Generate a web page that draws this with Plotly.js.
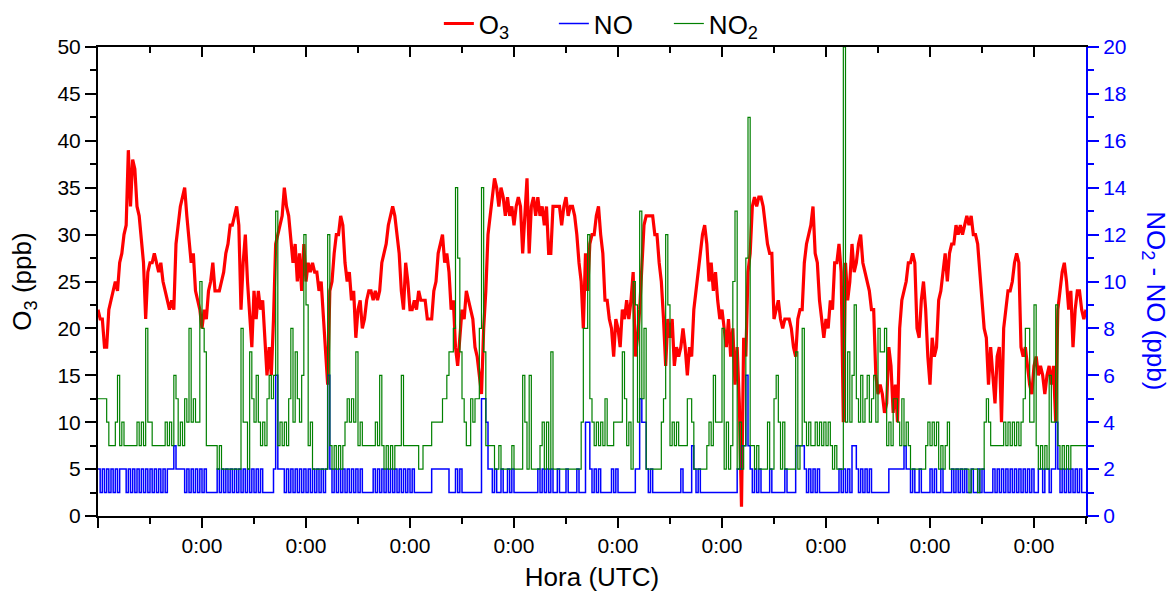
<!DOCTYPE html>
<html>
<head>
<meta charset="utf-8">
<script src="https://cdn.plot.ly/plotly-3.0.1.min.js"></script>
<style>html,body{margin:0;padding:0;background:#fff;}#chart{width:1176px;height:598px;}</style>
</head>
<body>
<div id="chart"></div>
<script>
// Half-hourly samples, hours since start (0 .. 228 h = 9.5 days)
const hours = Array.from({length: 457}, (_, i) => i * 0.5);

// O3 (ppb), left axis
const o3 = [
 22,21, 21,18, 18,22, 23,24, 25,24,
 27,28, 30,31, 39,33, 38,37, 33,32,
 29,27, 21,26, 27,27, 28,27, 26,27,
 25,24, 23,22, 23,22, 29,31, 33,34,
 35,32, 29,27, 28,24, 23,22, 20,22,
 21,24, 25,27, 24,24, 24,25, 26,28,
 29,31, 31,32, 33,31, 22,27, 30,25,
 22,18, 24,21, 24,22, 23,19, 15,18,
 15,21, 29,30, 31,32, 35,33, 32,29,
 27,29, 25,28, 24,29, 25,27, 26,27,
 26,26, 24,25, 21,17, 14,24, 25,28,
 30,30, 32,31, 27,25, 26,23, 24,19,
 22,23, 20,21, 23,24, 24,23, 24,23,
 24,27, 28,29, 31,32, 33,32, 30,28,
 24,22, 27,25, 22,22, 23,22, 24,23,
 23,23, 21,21, 21,24, 25,28, 29,30,
 27,28, 26,22, 23,18, 16,19, 22,21,
 24,23, 22,21, 18,17, 15,13, 20,24,
 30,32, 34,36, 35,33, 35,34, 32,34,
 32,33, 31,33, 34,33, 28,32, 36,28,
 33,34, 32,34, 32,33, 31,33, 28,28,
 33,33, 33,33, 31,33, 34,32, 33,33,
 32,30, 27,25, 20,28, 24,29, 30,30,
 32,33, 30,28, 23,23, 21,20, 17,21,
 20,18, 22,21, 23,21, 23,26, 17,19,
 22,27, 31,32, 32,32, 32,30, 30,27,
 25,21, 16,21, 19,21, 16,18, 17,18,
 20,18, 15,18, 17,22, 24,26, 28,30,
 31,29, 25,27, 24,26, 23,21, 22,20,
 18,21, 17,20, 14,18, 12,1, 19,17,
 26,28, 33,34, 33,34, 34,33, 31,29,
 28,28, 21,22, 23,21, 20,21, 21,21,
 20,18, 17,21, 22,22, 27,29, 30,31,
 33,28, 27,23, 21,19, 21,20, 23,22,
 27,27, 29,26, 10,27, 23,25, 29,26,
 27,29, 30,27, 26,25, 24,22, 22,15,
 13,14, 13,11, 12,18, 16,11, 14,10,
 20,23, 24,25, 27,27, 28,27, 20,19,
 23,25, 22,17, 14,19, 17,18, 23,24,
 26,28, 25,28, 29,29, 31,30, 31,30,
 31,32, 31,32, 30,30, 29,26, 23,20,
 19,14, 18,15, 12,17, 18,10, 20,22,
 24,24, 25,27, 28,27, 18,17, 18,16,
 14,13, 16,17, 15,16, 15,13, 15,16,
 14,16, 10,22, 24,26, 27,25, 22,24,
 18,22, 24,24, 22,21,
 22
];

// NO (ppb), right axis
const no = [
 2,1, 2,1, 2,1, 2,1, 2,1,
 2,2, 2,1, 2,1, 2,1, 2,1,
 2,1, 2,1, 2,1, 2,1, 2,1,
 2,1, 2,2, 2,3, 2,2, 2,2,
 1,2, 1,2, 1,2, 1,2, 1,2,
 1,1, 1,1, 1,2, 1,2, 1,2,
 1,2, 1,2, 1,2, 1,2, 1,2,
 1,2, 1,2, 1,2, 1,1, 1,1,
 1,2, 6,2, 2,2, 1,2, 1,2,
 1,2, 1,2, 1,2, 1,2, 1,2,
 1,2, 1,2, 1,2, 6,2, 1,2,
 1,2, 1,2, 1,2, 1,2, 1,2,
 1,2, 1,1, 1,1, 1,2, 1,2,
 1,2, 1,2, 1,2, 1,2, 1,2,
 1,2, 1,2, 1,2, 1,1, 1,1,
 1,1, 1,1, 2,2, 2,2, 2,2,
 2,2, 1,1, 1,2, 1,2, 1,1,
 1,1, 1,1, 1,1, 1,5, 5,4,
 2,2, 1,2, 1,1, 2,1, 1,2,
 1,2, 1,1, 1,1, 1,1, 1,1,
 1,1, 1,2, 1,2, 1,2, 1,2,
 1,1, 2,1, 1,1, 2,1, 1,1,
 1,2, 1,1, 1,4, 4,2, 1,2,
 1,2, 1,1, 1,1, 1,2, 1,2,
 1,1, 1,1, 1,1, 1,1, 2,2,
 5,4, 4,2, 1,2, 1,1, 1,1,
 1,1, 1,1, 1,1, 1,1, 1,2,
 1,1, 1,1, 3,2, 1,2, 1,1,
 1,1, 1,1, 1,1, 1,1, 1,1,
 1,1, 1,1, 1,2, 2,3, 3,6,
 3,2, 1,2, 1,2, 1,1, 1,1,
 2,1, 1,1, 1,1, 1,2, 1,1,
 1,1, 3,3, 3,3, 2,1, 2,1,
 2,1, 2,1, 1,1, 1,1, 1,1,
 1,1, 2,1, 2,1, 2,1, 3,3,
 2,1, 2,1, 2,1, 2,1, 1,1,
 1,1, 1,1, 1,2, 2,2, 2,2,
 2,2, 3,2, 2,1, 2,1, 1,2,
 1,1, 1,1, 2,1, 2,1, 1,2,
 1,1, 1,1, 2,1, 2,1, 2,1,
 2,1, 1,2, 1,1, 2,1, 2,1,
 1,1, 1,2, 1,2, 1,2, 1,2,
 1,2, 1,2, 1,2, 1,2, 1,2,
 1,2, 1,1, 2,2, 1,2, 2,1,
 2,2, 4,2, 1,2, 1,2, 1,2,
 1,2, 1,2, 1,1,
 1
];

// NO2 (ppb), right axis
const no2 = [
 5,5, 5,5, 4,3, 3,3, 4,6,
 3,4, 3,3, 3,3, 3,3, 4,3,
 4,3, 8,4, 4,3, 3,3, 3,3,
 3,4, 3,4, 3,6, 5,3, 4,3,
 5,4, 8,4, 5,4, 4,10, 8,7,
 3,3, 3,3, 3,2, 3,2, 2,2,
 2,2, 2,2, 2,2, 8,4, 4,2,
 7,5, 4,6, 4,3, 4,3, 5,6,
 5,6, 13,3, 4,3, 4,3, 5,8,
 4,7, 5,4, 6,12, 9,3, 4,2,
 2,2, 2,2, 2,2, 12,3, 2,3,
 2,3, 2,3, 4,5, 4,5, 4,7,
 3,4, 3,3, 3,3, 3,3, 4,3,
 6,3, 2,3, 2,3, 2,3, 3,3,
 6,3, 3,3, 3,3, 3,3, 2,2,
 3,3, 3,3, 4,4, 4,4, 4,5,
 5,6, 7,7, 8,14, 11,7, 5,4,
 3,3, 5,4, 5,5, 8,14, 7,3,
 3,3, 3,2, 2,3, 2,2, 2,2,
 2,3, 2,2, 2,2, 6,4, 2,6,
 2,2, 2,2, 3,4, 2,4, 2,7,
 2,2, 2,2, 2,2, 2,2, 2,2,
 2,2, 2,4, 8,8, 12,5, 4,3,
 4,3, 4,3, 5,3, 3,3, 4,4,
 4,4, 7,5, 3,4, 2,10, 9,4,
 13,5, 8,2, 2,2, 2,2, 2,2,
 4,5, 12,9, 3,4, 3,4, 3,3,
 3,3, 5,5, 4,2, 2,2, 2,2,
 2,3, 4,3, 6,4, 4,4, 8,2,
 4,2, 3,10, 13,2, 4,2, 3,11,
 17,3, 3,2, 3,2, 2,2, 2,4,
 2,2, 5,6, 4,2, 4,2, 2,2,
 2,2, 7,2, 3,8, 4,3, 4,3,
 3,4, 3,4, 3,4, 3,4, 3,2,
 3,2, 2,2, 20,4, 7,4, 6,9,
 5,4, 6,4, 5,6, 4,5, 6,4,
 8,7, 7,8, 3,4, 3,5, 5,4,
 3,5, 3,4, 3,2, 2,2, 2,2,
 2,2, 3,4, 3,4, 3,4, 2,3,
 2,3, 4,2, 2,2, 2,2, 2,2,
 2,2, 1,2, 2,2, 1,2, 2,4,
 5,4, 3,3, 3,3, 3,3, 4,3,
 4,3, 4,3, 4,3, 4,5, 8,8,
 4,4, 9,3, 2,3, 2,3, 2,6,
 4,4, 9,3, 2,3, 2,3, 2,3,
 3,3, 3,3, 3,3,
 3
];

// Axis ticks (hours): midnights labelled (first one unlabelled), noons as minor ticks
const majorTicks = [0,24,48,72,96,120,144,168,192,216];
const tickLabels = ['','0:00','0:00','0:00','0:00','0:00','0:00','0:00','0:00','0:00'];
const minorTicks = [12,36,60,84,108,132,156,180,204,228];

const FONT = 'Arial, "Liberation Sans", sans-serif';
const BLUE = '#0000FF';

const traces = [
  {x: hours, y: o3, name: 'O<sub>3</sub>', type: 'scatter', mode: 'lines',
   line: {color: '#FF0000', width: 3.2}, xaxis: 'x', yaxis: 'y'},
  {x: hours, y: no, name: 'NO', type: 'scatter', mode: 'lines',
   line: {color: BLUE, width: 1.5, shape: 'hv'}, xaxis: 'x2', yaxis: 'y2'},
  {x: hours, y: no2, name: 'NO<sub>2</sub>', type: 'scatter', mode: 'lines',
   line: {color: '#008000', width: 1.2, shape: 'hv'}, xaxis: 'x2', yaxis: 'y2'}
];

const layout = {
  width: 1176, height: 598,
  margin: {l: 98, r: 90, t: 47, b: 82, autoexpand: false},
  paper_bgcolor: '#ffffff', plot_bgcolor: '#ffffff',
  font: {family: FONT, size: 21, color: '#000000'},
  showlegend: true,
  legend: {orientation: 'h', x: 0.345, xanchor: 'left', y: 1.1, yanchor: 'top',
           font: {size: 26}, bgcolor: 'rgba(0,0,0,0)', traceorder: 'normal',
           entrywidth: 70, entrywidthmode: 'pixels'},
  xaxis: {
    range: [0, 228], tickmode: 'array', tickvals: majorTicks, ticktext: tickLabels,
    ticks: 'outside', ticklen: 10, tickwidth: 1.5, tickcolor: '#000',
    showline: true, linecolor: '#000', linewidth: 2, showgrid: false, zeroline: false,
    tickfont: {size: 21},
    minor: {tickmode: 'array', tickvals: minorTicks, ticks: 'outside', ticklen: 6,
            tickwidth: 1.5, tickcolor: '#000', showgrid: false},
    title: {text: 'Hora (UTC)', font: {size: 26}, standoff: 12}
  },
  xaxis2: {
    overlaying: 'x', side: 'top', anchor: 'y2', range: [0, 228],
    tickmode: 'array', tickvals: majorTicks, showticklabels: false,
    ticks: 'inside', ticklen: 10, tickwidth: 1.5, tickcolor: '#000',
    showline: true, linecolor: '#000', linewidth: 2, showgrid: false, zeroline: false,
    minor: {tickmode: 'array', tickvals: minorTicks, ticks: 'inside', ticklen: 6,
            tickwidth: 1.5, tickcolor: '#000', showgrid: false}
  },
  yaxis: {
    range: [0, 50], tickmode: 'linear', tick0: 0, dtick: 5,
    ticks: 'outside', ticklen: 11, tickwidth: 1.5, tickcolor: '#000',
    showline: true, linecolor: '#000', linewidth: 2, showgrid: false, zeroline: false,
    tickfont: {size: 21},
    minor: {dtick: 2.5, tick0: 0, ticks: 'outside', ticklen: 6, tickwidth: 1.5,
            tickcolor: '#000', showgrid: false},
    title: {text: 'O<sub>3</sub> (ppb)', font: {size: 26}, standoff: 18}
  },
  yaxis2: {
    overlaying: 'y', side: 'right', anchor: 'x2', range: [0, 20],
    tickmode: 'linear', tick0: 0, dtick: 2,
    ticks: 'outside', ticklen: 11, tickwidth: 1.5, tickcolor: BLUE,
    showline: true, linecolor: BLUE, linewidth: 2, showgrid: false, zeroline: false,
    tickfont: {size: 21, color: BLUE},
    minor: {dtick: 1, tick0: 0, ticks: 'outside', ticklen: 6, tickwidth: 1.5,
            tickcolor: BLUE, showgrid: false}
  },
  annotations: [{
    text: 'NO<sub>2</sub> - NO (ppb)', xref: 'paper', yref: 'paper',
    x: 1, xshift: 69, y: 0.46, xanchor: 'center', yanchor: 'middle',
    textangle: 90, showarrow: false, font: {size: 26, color: BLUE}
  }]
};

Plotly.newPlot('chart', traces, layout, {displayModeBar: false, responsive: false});
</script>
</body>
</html>
